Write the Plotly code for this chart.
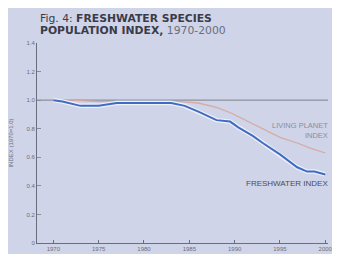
import plotly.graph_objects as go

years_fw = [1970, 1971, 1973, 1975, 1977, 1979, 1981, 1983, 1984.5, 1986, 1988, 1989.5, 1990.4, 1992, 1993.1, 1995, 1996.9, 1998, 1998.8, 2000]
fw_index = [1.0, 0.99, 0.96, 0.96, 0.98, 0.98, 0.98, 0.98, 0.96, 0.92, 0.86, 0.85, 0.81, 0.75, 0.70, 0.62, 0.53, 0.50, 0.50, 0.48]

years_lpi = [1970, 1972, 1975, 1978, 1981, 1984, 1986, 1988, 1989.6, 1991.5, 1993.3, 1995, 1996.9, 1998.5, 2000]
lpi_index = [1.0, 1.0, 0.99, 0.99, 0.99, 0.99, 0.98, 0.95, 0.91, 0.85, 0.79, 0.74, 0.70, 0.66, 0.63]

ref_years = [1968.2, 2000.3]
ref_vals = [1.0, 1.0]

x_ticks = [1970, 1975, 1980, 1985, 1990, 1995, 2000]
y_ticks = [0, 0.2, 0.4, 0.6, 0.8, 1.0, 1.2, 1.4]
y_tick_labels = ["0", "0.2", "0.4", "0.6", "0.8", "1.0", "1.2", "1.4"]

bg = "#d0d4e8"
fig = go.Figure()
fig.add_trace(go.Scatter(x=ref_years, y=ref_vals, mode="lines",
                         line=dict(color="#8c909c", width=1.2), hoverinfo="skip"))
fig.add_trace(go.Scatter(x=years_lpi, y=lpi_index, mode="lines",
                         line=dict(color="#d6aaa4", width=1.3)))
fig.add_trace(go.Scatter(x=years_fw, y=fw_index, mode="lines",
                         line=dict(color="#eef0fa", width=4.5), hoverinfo="skip"))
fig.add_trace(go.Scatter(x=years_fw, y=fw_index, mode="lines",
                         line=dict(color="#3f6cc0", width=2)))

font = "Liberation Sans, Arial, sans-serif"
title_font = "DejaVu Sans, sans-serif"
fig.update_layout(
    width=340, height=254,
    margin=dict(l=29, r=20, t=35, b=19, autoexpand=False),
    paper_bgcolor=bg, plot_bgcolor=bg,
    showlegend=False,
    font=dict(family=font, size=6, color="#6a6e7a"),
    xaxis=dict(range=[1968.2, 2000.3], tickvals=x_ticks, ticks="inside", ticklen=3,
               tickcolor="#6a6e7a", showgrid=False, zeroline=False, automargin=False,
               showline=True, linecolor="#6a6e7a", linewidth=1,
               tickfont=dict(size=6, color="#6a6e7a")),
    yaxis=dict(range=[0, 1.4], tickvals=y_ticks, ticktext=y_tick_labels,
               ticks="inside", ticklen=4, tickcolor="#8a8e9a", automargin=False,
               showgrid=False, zeroline=False, showline=True,
               linecolor="#6a6e7a", linewidth=1,
               tickfont=dict(size=6, color="#6a6e7a"),
               title=dict(text="INDEX (1970=1.0)", standoff=14,
                          font=dict(size=6, color="#6a6e7a"))),
    annotations=[
        dict(text="Fig. 4: <b>FRESHWATER SPECIES</b>",
             xref="paper", yref="paper", x=0.003, y=1.1225, xanchor="left", yanchor="middle",
             align="left", showarrow=False,
             font=dict(family=title_font, size=10.8, color="#3a3c48")),
        dict(text="<b>POPULATION INDEX,</b> <span style='color:#6a6e7a'>1970-2000</span>",
             xref="paper", yref="paper", x=0.003, y=1.06, xanchor="left", yanchor="middle",
             align="left", showarrow=False,
             font=dict(family=title_font, size=10.8, color="#3a3c48")),
        dict(text="LIVING PLANET<br>INDEX", xref="paper", x=1.007, y=0.79,
             xanchor="right", yanchor="middle",
             align="right", showarrow=False, font=dict(size=7.5, color="#8a8e9a")),
        dict(text="FRESHWATER INDEX", xref="paper", x=1.007, y=0.42,
             xanchor="right", yanchor="middle",
             showarrow=False, font=dict(size=8, color="#4a4c58")),
    ],
)
fig.write_html("out.html")
